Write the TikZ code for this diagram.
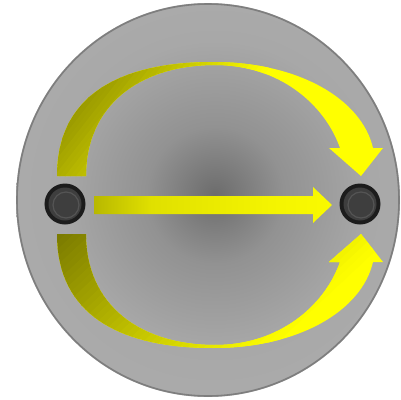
\documentclass[tikz,border=0pt]{standalone}
\usetikzlibrary{shadings}
\definecolor{dk}{HTML}{757500}
\definecolor{dkl}{HTML}{7A7A00}
\definecolor{yel}{HTML}{FFFF00}
\definecolor{sa}{HTML}{B8B800}
\definecolor{sb}{HTML}{E0E000}
\definecolor{sc}{HTML}{F4F400}
\definecolor{sd}{HTML}{FAFA00}
\definecolor{bgzero}{HTML}{6C6C6C}
\definecolor{bgone}{HTML}{929292}
\definecolor{bgtwo}{HTML}{A8A8A8}
\definecolor{bgthree}{HTML}{ABABAB}
\definecolor{rimcol}{HTML}{7E7E7E}
\definecolor{dotring}{HTML}{1C1C1C}
\definecolor{dotfill}{HTML}{3E3E3E}
\definecolor{dothi}{HTML}{545454}
\pgfdeclarehorizontalshading{straightgrad}{100bp}{color(0bp)=(sa); color(25bp)=(sa); color(37bp)=(sb); color(62bp)=(sc); color(75bp)=(sd); color(100bp)=(sd)}
\pgfdeclareradialshading{bggrad}{\pgfpoint{0bp}{0bp}}{color(0bp)=(bgzero); color(8bp)=(bgone); color(18bp)=(bgtwo); color(25bp)=(bgthree); color(50bp)=(bgthree)}
% linear gradient from thin strips, in picture coordinates:
% #1,#2 start point, #3,#4 unit direction, #5 span (px), #6 dark colour
\newcommand{\gradstrips}[6]{%
  \foreach \i in {-1,0,...,39}{%
    \pgfmathsetmacro\pa{(\i==-1) ? -600 : \i*#5/40}%
    \pgfmathsetmacro\pb{(\i+1)*#5/40+0.6}%
    \pgfmathtruncatemacro\pc{(\i==-1) ? 0 : (\i+0.5)*100/40}%
    \fill[yel!\pc!#6]
      ({#1+(\pa)*#3+600*#4},{#2+(\pa)*#4-600*#3}) --
      ({#1+(\pb)*#3+600*#4},{#2+(\pb)*#4-600*#3}) --
      ({#1+(\pb)*#3-600*#4},{#2+(\pb)*#4+600*#3}) --
      ({#1+(\pa)*#3-600*#4},{#2+(\pa)*#4+600*#3}) -- cycle;
  }}
\tikzset{
  rim/.style={draw=rimcol, line width=0.4mm},
  dotnode/.style={circle, fill=dotring, draw=none, minimum size=10.25mm, inner sep=0pt},
  dotinner/.style={fill=dotfill},
  dotshine/.style={draw=dothi, line width=0.3mm},
}
\begin{document}
\begin{tikzpicture}[x=0.25mm, y=-0.25mm]
\useasboundingbox (0,0) rectangle (401,400);
% background disc
\begin{scope}
  \clip (208,200) ellipse [x radius=192, y radius=197];
  \shade[shading=bggrad] (215,195) circle [radius=215];
\end{scope}
\draw[rim] (208,200) ellipse [x radius=191, y radius=196];
% upper curved arrow
\begin{scope}
  \clip (57,176) .. controls (57,95) and (120,62) .. (213,62)
        .. controls (300,62) and (362,100) .. (373,148)
        -- (383,148) -- (361,176) -- (329,148) -- (340,148)
        .. controls (325,105) and (280,65) .. (215,65)
        .. controls (140,65) and (86,105) .. (86,176) -- cycle;
  \fill[yel] (0,0) rectangle (401,400);
  \gradstrips{57}{62}{0.788}{0.616}{170}{dk}
\end{scope}
% lower curved arrow
\begin{scope}
  \clip (57,234) .. controls (57,315) and (120,348) .. (213,348)
        .. controls (300,348) and (362,310) .. (373,262)
        -- (383,262) -- (361,234) -- (329,262) -- (340,262)
        .. controls (325,305) and (280,345) .. (215,345)
        .. controls (140,345) and (86,305) .. (86,234) -- cycle;
  \fill[yel] (0,0) rectangle (401,400);
  \gradstrips{57}{234}{0.682}{0.731}{229}{dkl}
\end{scope}
% straight arrow
\shade[shading=straightgrad] (94,196) -- (313,196) -- (313,187) -- (332,205)
      -- (313,223) -- (313,214) -- (94,214) -- cycle;
% terminals
\node[dotnode] (dotL) at (65,204) {};
\node[dotnode] (dotR) at (360,204) {};
\foreach \d in {dotL,dotR}{
  \fill[dotinner] (\d) circle [radius=16.5];
  \draw[dotshine] ([shift={(1,1)}]\d) circle [radius=13];
}
\end{tikzpicture}
\end{document}
